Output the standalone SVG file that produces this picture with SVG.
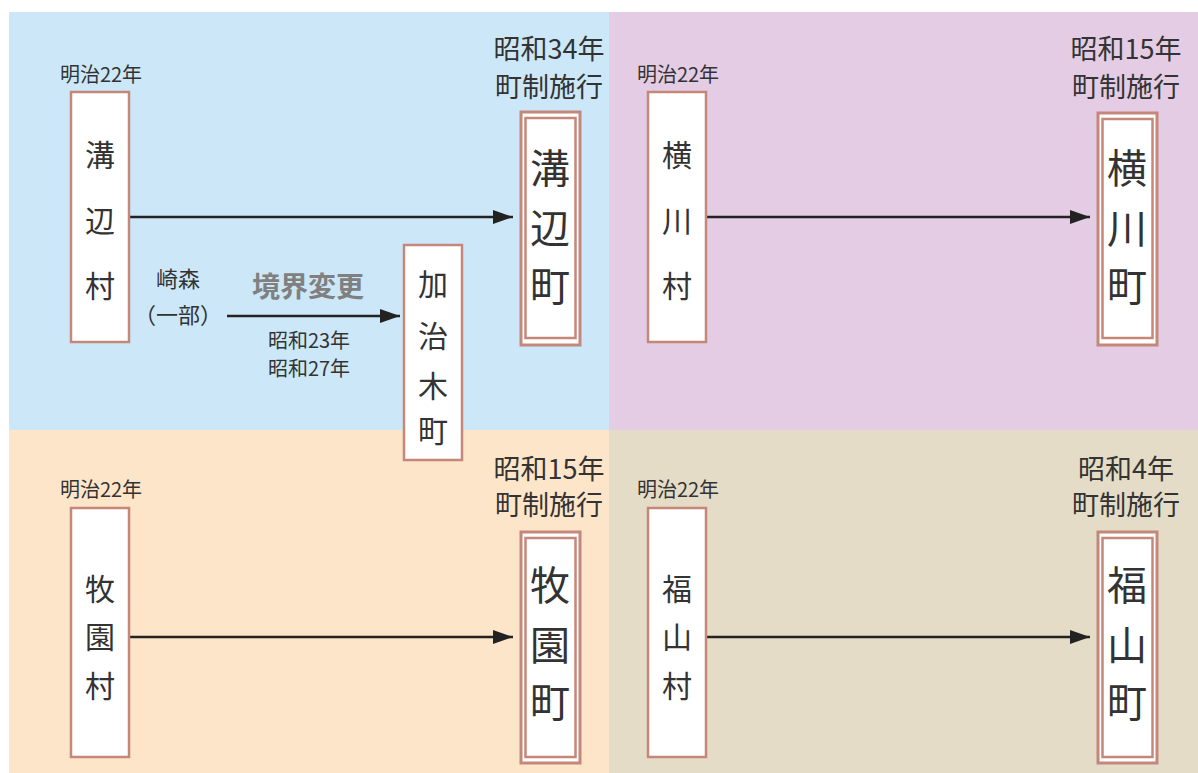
<svg xmlns="http://www.w3.org/2000/svg" width="1198" height="773" viewBox="0 0 1198 773">
<defs>
<style>
.t{font-family:"Noto Sans CJK JP","Noto Sans",sans-serif;fill:#333;text-anchor:middle;dominant-baseline:central}
.box{fill:#fff;stroke:#c4877a;stroke-width:2.5}
.obox{fill:#fff;stroke:#c4877a;stroke-width:3}
.ibox{fill:none;stroke:#c4877a;stroke-width:2.5}
.conn{stroke:#222;stroke-width:2.5;fill:none}
.s19{font-size:20px}
.s26{font-size:27px}
.s30{font-size:30px}
.s40{font-size:40px}
.s22{font-size:22px}
.s20{font-size:20px}
</style>
<marker id="ah" viewBox="0 0 20 14" refX="20" refY="7" markerWidth="20" markerHeight="14" markerUnits="userSpaceOnUse" orient="auto">
<path d="M0,0 L20,7 L0,14 z" fill="#222"/>
</marker>
</defs>
<rect x="0" y="0" width="1198" height="773" fill="#fff"/>
<g id="panels">
<rect x="9" y="12" width="600" height="418" fill="#cce8f8"/>
<rect x="609" y="12" width="589" height="418" fill="#e4cde4"/>
<rect x="9" y="430" width="600" height="343" fill="#fde5c9"/>
<rect x="609" y="430" width="589" height="343" fill="#e5dcc8"/>
</g>
<g id="connectors">
<line class="conn" x1="129" y1="217" x2="513" y2="217" marker-end="url(#ah)"/>
<line class="conn" x1="227" y1="316" x2="400" y2="316" marker-end="url(#ah)"/>
<line class="conn" x1="706" y1="217" x2="1090" y2="217" marker-end="url(#ah)"/>
<line class="conn" x1="129" y1="637" x2="513" y2="637" marker-end="url(#ah)"/>
<line class="conn" x1="706" y1="637" x2="1090" y2="637" marker-end="url(#ah)"/>
</g>
<g id="labels">
<text class="t s19" x="101" y="73">明治22年</text>
<text class="t s19" x="678" y="73">明治22年</text>
<text class="t s19" x="101" y="488">明治22年</text>
<text class="t s19" x="678" y="488">明治22年</text>
<text class="t s26" x="549" y="47">昭和34年</text>
<text class="t s26" x="549" y="85">町制施行</text>
<text class="t s26" x="1126" y="47">昭和15年</text>
<text class="t s26" x="1126" y="85">町制施行</text>
<text class="t s26" x="549" y="467">昭和15年</text>
<text class="t s26" x="549" y="503">町制施行</text>
<text class="t s26" x="1126" y="467">昭和4年</text>
<text class="t s26" x="1126" y="503">町制施行</text>
<text class="t s22" x="178" y="277">崎森</text>
<text class="t s22" x="178" y="313">（一部）</text>
<text class="t" x="308" y="285" style="font-size:28px;font-weight:bold;fill:#808080">境界変更</text>
<text class="t s20" x="309" y="339">昭和23年</text>
<text class="t s20" x="309" y="367">昭和27年</text>
</g>
<g id="mizobe-mura">
<rect class="box" x="71" y="92" width="58" height="250"/>
<text class="t s30" x="100" y="153">溝</text>
<text class="t s30" x="100" y="219">辺</text>
<text class="t s30" x="100" y="284">村</text>
</g>
<g id="mizobe-cho">
<rect class="obox" x="521" y="112" width="59" height="233"/>
<rect class="ibox" x="525.5" y="118" width="50" height="220"/>
<text class="t s40" x="550" y="166">溝</text>
<text class="t s40" x="550" y="226">辺</text>
<text class="t s40" x="550" y="284">町</text>
</g>
<g id="kajiki-cho">
<rect class="box" x="404" y="245" width="58" height="215"/>
<text class="t s30" x="433" y="282">加</text>
<text class="t s30" x="433" y="334">治</text>
<text class="t s30" x="433" y="384">木</text>
<text class="t s30" x="433" y="429">町</text>
</g>
<g id="yokogawa-mura">
<rect class="box" x="648" y="92" width="58" height="250"/>
<text class="t s30" x="677" y="153">横</text>
<text class="t s30" x="677" y="219">川</text>
<text class="t s30" x="677" y="284">村</text>
</g>
<g id="yokogawa-cho">
<rect class="obox" x="1098" y="113" width="59" height="232"/>
<rect class="ibox" x="1102.5" y="119" width="50" height="219"/>
<text class="t s40" x="1127" y="166">横</text>
<text class="t s40" x="1127" y="226">川</text>
<text class="t s40" x="1127" y="284">町</text>
</g>
<g id="makizono-mura">
<rect class="box" x="71" y="508" width="58" height="249"/>
<text class="t s30" x="100" y="587">牧</text>
<text class="t s30" x="100" y="635">園</text>
<text class="t s30" x="100" y="684">村</text>
</g>
<g id="makizono-cho">
<rect class="obox" x="521" y="532" width="59" height="231"/>
<rect class="ibox" x="525.5" y="538" width="50" height="219"/>
<text class="t s40" x="550" y="583">牧</text>
<text class="t s40" x="550" y="643">園</text>
<text class="t s40" x="550" y="700">町</text>
</g>
<g id="fukuyama-mura">
<rect class="box" x="648" y="508" width="58" height="249"/>
<text class="t s30" x="677" y="587">福</text>
<text class="t s30" x="677" y="635">山</text>
<text class="t s30" x="677" y="684">村</text>
</g>
<g id="fukuyama-cho">
<rect class="obox" x="1098" y="532" width="59" height="231"/>
<rect class="ibox" x="1102.5" y="538" width="50" height="219"/>
<text class="t s40" x="1127" y="583">福</text>
<text class="t s40" x="1127" y="643">山</text>
<text class="t s40" x="1127" y="700">町</text>
</g>
</svg>
